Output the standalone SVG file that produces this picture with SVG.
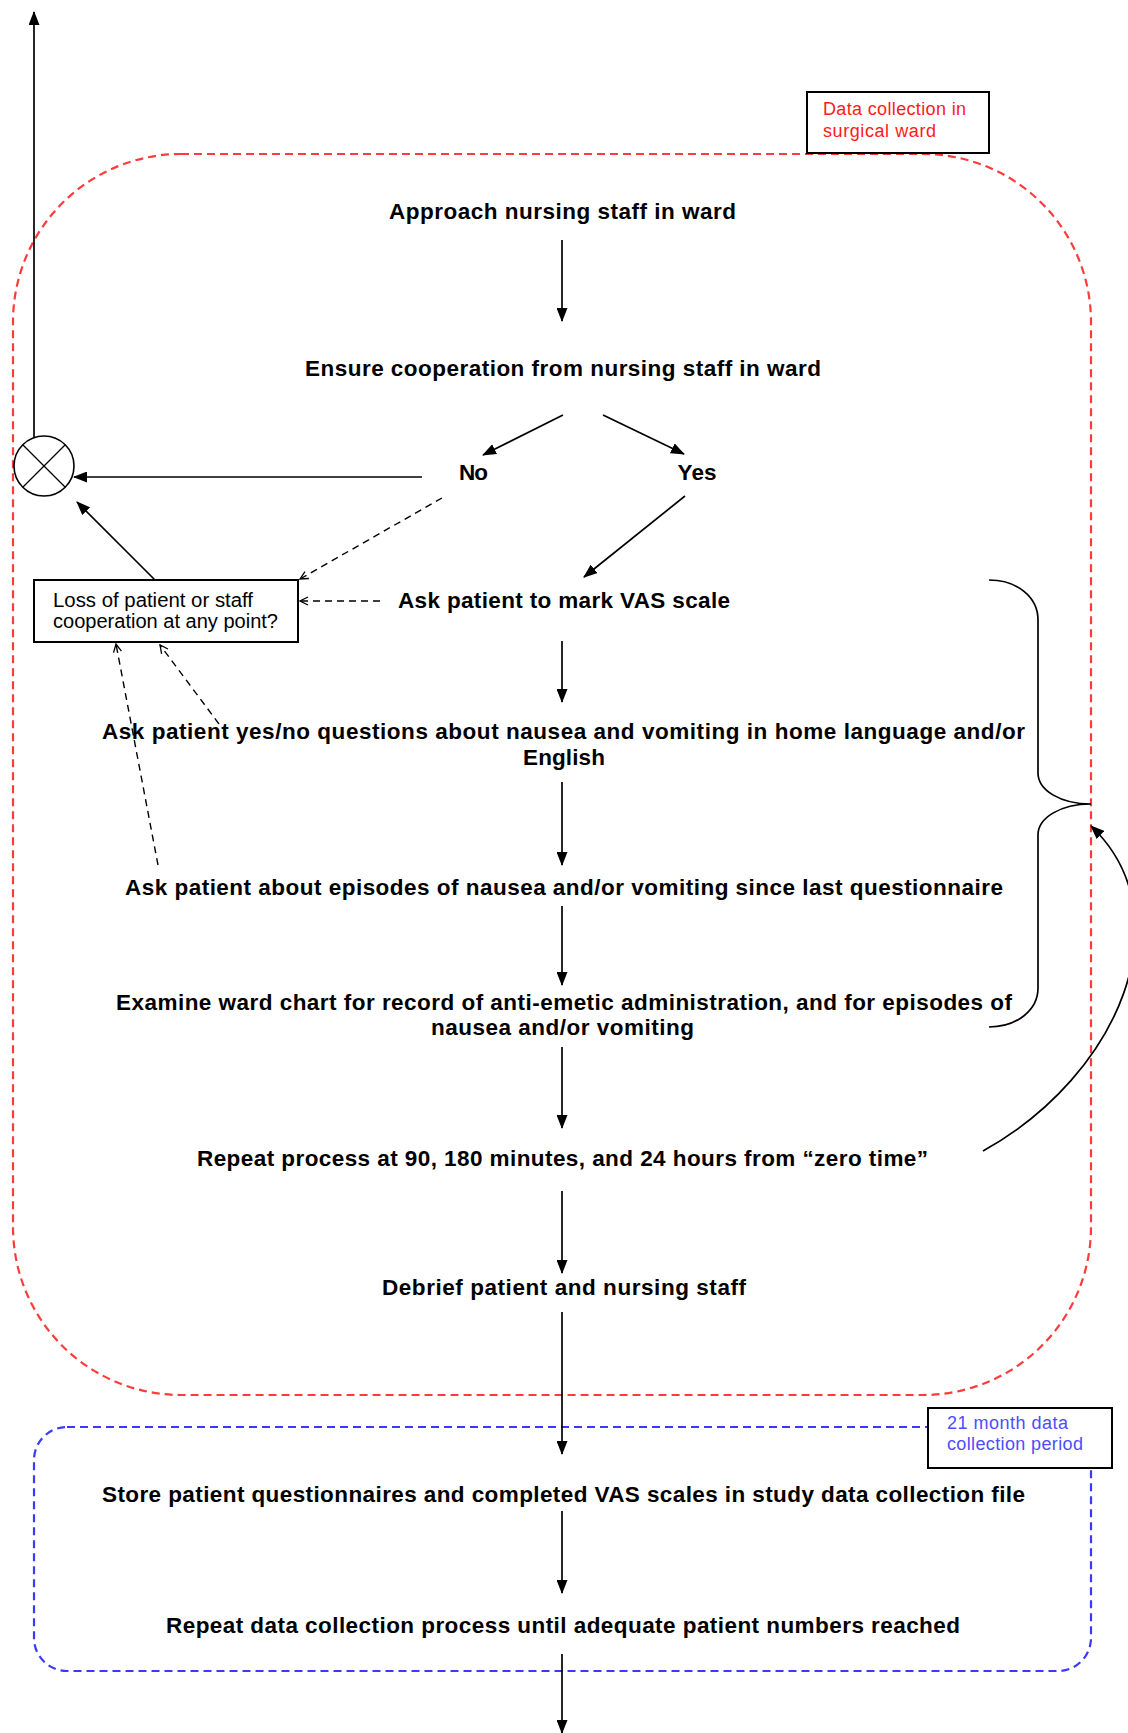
<svg xmlns="http://www.w3.org/2000/svg" width="1128" height="1733" viewBox="0 0 1128 1733">
<style>
.t{font-family:"Liberation Sans",Arial,sans-serif;font-weight:bold;font-size:22.5px;fill:#000;text-anchor:middle}
.s{font-family:"Liberation Sans",Arial,sans-serif;font-size:19.5px;fill:#000}
.lr{font-family:"Liberation Sans",Arial,sans-serif;font-size:18px;fill:#ff1a1a}
.lb{font-family:"Liberation Sans",Arial,sans-serif;font-size:18px;fill:#4d4dff}
.a{fill:none;stroke:#000;stroke-width:1.7;marker-end:url(#ah)}
.d{fill:none;stroke:#000;stroke-width:1.4;stroke-dasharray:7 5;marker-end:url(#oh)}
.box{fill:#fff;stroke:#000;stroke-width:2}
</style>
<defs>
<marker id="ah" markerUnits="userSpaceOnUse" markerWidth="14" markerHeight="11" refX="13" refY="5.5" orient="auto">
<path d="M0,0 L14,5.5 L0,11 z" fill="#000"/>
</marker>
<marker id="oh" markerUnits="userSpaceOnUse" markerWidth="10" markerHeight="10" refX="9" refY="5" orient="auto">
<path d="M1,1 L9,5 L1,9" fill="none" stroke="#000" stroke-width="1.3"/>
</marker>
</defs>
<rect width="1128" height="1733" fill="#fff"/>

<g id="group-ward">
<rect x="13" y="154" width="1078" height="1241" rx="168" ry="168" fill="none" stroke="#ff3b3b" stroke-width="2.2" stroke-dasharray="8 5"/>
</g>
<g id="group-period">
<rect x="34" y="1427" width="1057" height="244" rx="33" ry="33" fill="none" stroke="#3a3aff" stroke-width="2.2" stroke-dasharray="8 5"/>
</g>

<g id="connectors">
<line class="a" x1="34" y1="437" x2="34" y2="12"/>
<line class="a" x1="422" y1="477" x2="74" y2="477"/>
<line class="a" x1="155" y1="580" x2="77" y2="502"/>
<line class="d" x1="442" y1="498" x2="300" y2="579"/>
<line class="d" x1="380" y1="601" x2="300" y2="601"/>
<line class="d" x1="158" y1="865" x2="116" y2="644"/>
<line class="d" x1="219" y1="724" x2="160" y2="645"/>
<line class="a" x1="563" y1="415" x2="483" y2="455"/>
<line class="a" x1="603" y1="415" x2="684" y2="454"/>
<line class="a" x1="685" y1="496" x2="584" y2="577"/>
<line class="a" x1="562" y1="240" x2="562" y2="321"/>
<line class="a" x1="562" y1="641" x2="562" y2="702"/>
<line class="a" x1="562" y1="782" x2="562" y2="865"/>
<line class="a" x1="562" y1="906" x2="562" y2="985"/>
<line class="a" x1="562" y1="1047" x2="562" y2="1128"/>
<line class="a" x1="562" y1="1191" x2="562" y2="1273"/>
<line class="a" x1="562" y1="1312" x2="562" y2="1454"/>
<line class="a" x1="562" y1="1511" x2="562" y2="1593"/>
<line class="a" x1="562" y1="1654" x2="562" y2="1733"/>
<path d="M989 580 C1017 580 1038 597 1038 620 L1038 773 C1038 790 1060 804 1091 804 C1060 804 1038 818 1038 835 L1038 988 C1038 1010 1017 1027 989 1027" fill="none" stroke="#000" stroke-width="1.7"/>
<path class="a" d="M983 1151 C1120 1075 1185 915 1091 826"/>
</g>

<g id="node-label-ward">
<rect class="box" x="807" y="92" width="182" height="61"/>
<text class="lr" x="823" y="115" textLength="143">Data collection in</text>
<text class="lr" x="823" y="137" textLength="113">surgical ward</text>
</g>
<g id="node-label-period">
<rect class="box" x="928" y="1408" width="184" height="60"/>
<text class="lb" x="947" y="1429" textLength="121">21 month data</text>
<text class="lb" x="947" y="1450" textLength="136">collection period</text>
</g>

<g id="node-terminate">
<circle cx="44" cy="466" r="30" fill="#fff" stroke="#000" stroke-width="1.6"/>
<line x1="23" y1="445" x2="65" y2="487" stroke="#000" stroke-width="1.2"/>
<line x1="65" y1="445" x2="23" y2="487" stroke="#000" stroke-width="1.2"/>
</g>

<g id="node-loss">
<rect class="box" x="34" y="580" width="264" height="62"/>
<text class="s" x="53" y="607" textLength="200" lengthAdjust="spacingAndGlyphs">Loss of patient or staff</text>
<text class="s" x="53" y="628" textLength="225" lengthAdjust="spacingAndGlyphs">cooperation at any point?</text>
</g>

<g id="node-approach"><text class="t" x="562.5" y="219" textLength="347">Approach nursing staff in ward</text></g>
<g id="node-ensure"><text class="t" x="563" y="376" textLength="516">Ensure cooperation from nursing staff in ward</text></g>
<g id="node-no"><text class="t" x="473.5" y="480" textLength="29">No</text></g>
<g id="node-yes"><text class="t" x="697" y="480" textLength="39">Yes</text></g>
<g id="node-vas"><text class="t" x="564" y="608" textLength="332">Ask patient to mark VAS scale</text></g>
<g id="node-yesno">
<text class="t" x="563.5" y="739" textLength="923">Ask patient yes/no questions about nausea and vomiting in home language and/or</text>
<text class="t" x="564" y="765" textLength="82">English</text>
</g>
<g id="node-episodes"><text class="t" x="564" y="895" textLength="878">Ask patient about episodes of nausea and/or vomiting since last questionnaire</text></g>
<g id="node-examine">
<text class="t" x="564" y="1010" textLength="896">Examine ward chart for record of anti-emetic administration, and for episodes of</text>
<text class="t" x="562.5" y="1035" textLength="263">nausea and/or vomiting</text>
</g>
<g id="node-repeat"><text class="t" x="562.5" y="1166" textLength="731">Repeat process at 90, 180 minutes, and 24 hours from “zero time”</text></g>
<g id="node-debrief"><text class="t" x="564" y="1295" textLength="364">Debrief patient and nursing staff</text></g>
<g id="node-store"><text class="t" x="563.5" y="1502" textLength="923">Store patient questionnaires and completed VAS scales in study data collection file</text></g>
<g id="node-repeatdata"><text class="t" x="563" y="1633" textLength="794">Repeat data collection process until adequate patient numbers reached</text></g>
</svg>
